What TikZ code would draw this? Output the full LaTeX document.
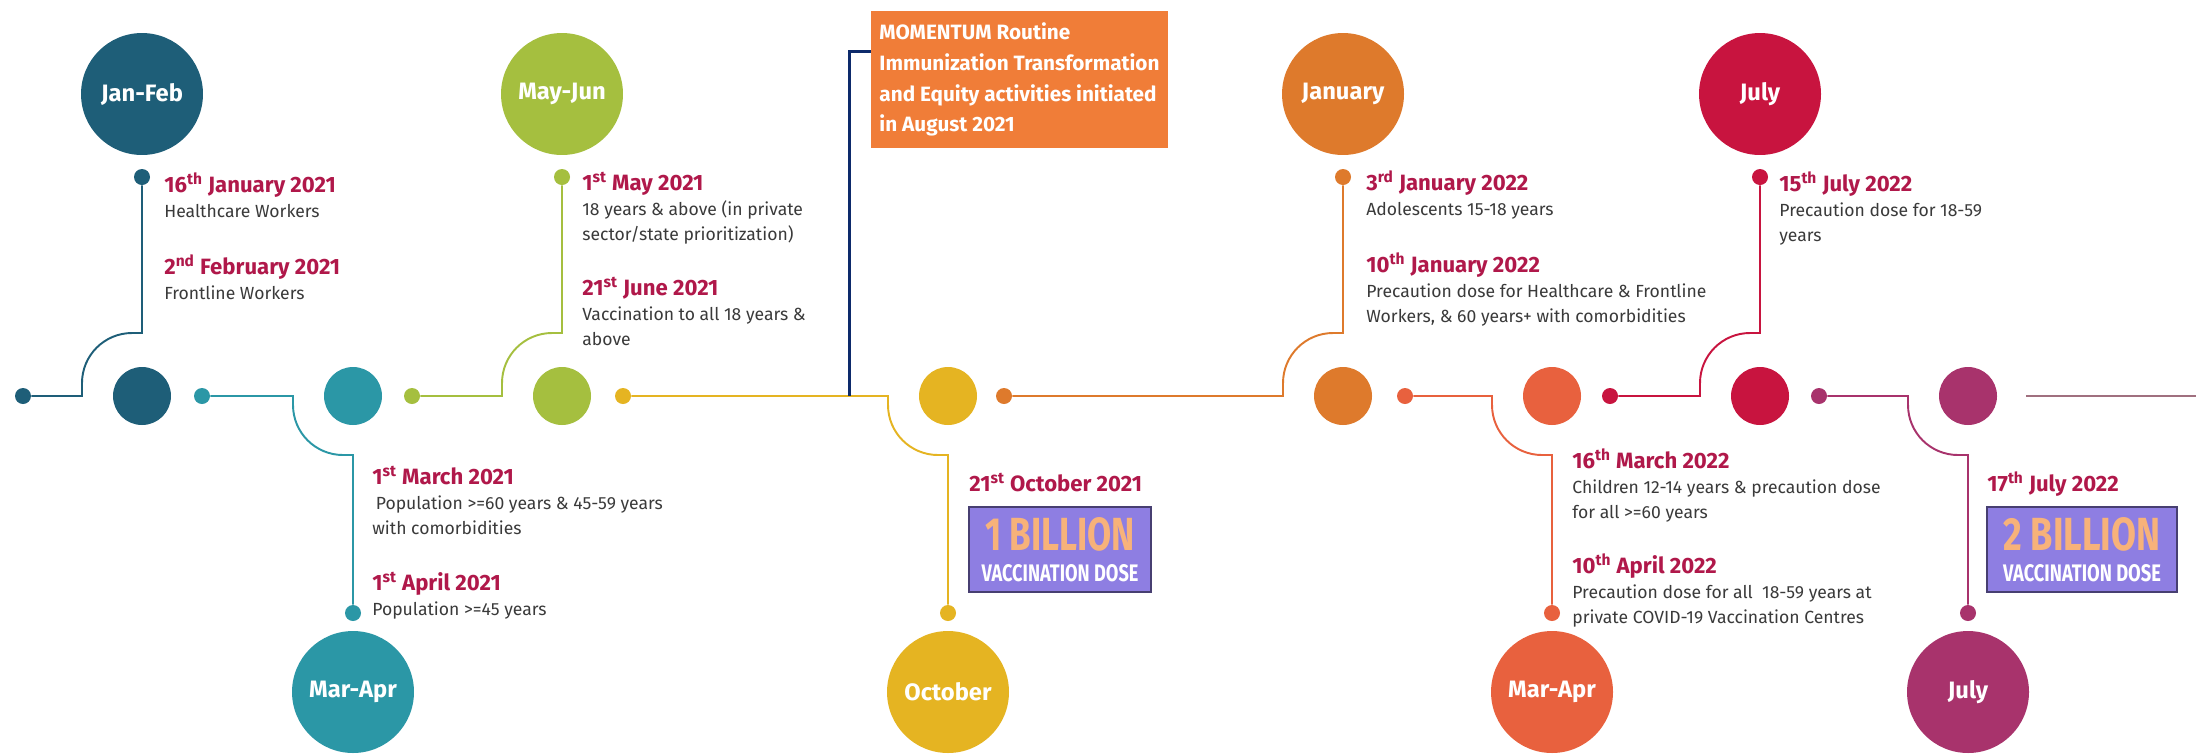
\documentclass[tikz,border=0pt]{standalone}
\usepackage{fontspec}
\setmainfont{Fira Sans}
\usepackage{xcolor}
\usetikzlibrary{positioning}

\definecolor{tealdark}{HTML}{1E5E78}
\definecolor{tealmid}{HTML}{2B97A6}
\definecolor{leaf}{HTML}{A5BF3F}
\definecolor{gold}{HTML}{E5B422}
\definecolor{amber}{HTML}{DE7A2C}
\definecolor{coral}{HTML}{E8613E}
\definecolor{crimson}{HTML}{C8143F}
\definecolor{plum}{HTML}{A8336C}
\definecolor{mauve}{HTML}{A0707F}
\definecolor{navy}{HTML}{0D2A6B}
\definecolor{datered}{HTML}{B0184A}
\definecolor{txtgray}{HTML}{3A3A3A}
\definecolor{boxorange}{HTML}{F07D38}
\definecolor{boxviolet}{HTML}{8E7EE2}
\definecolor{peach}{HTML}{F7B27A}
\newcommand{\datefont}{\fontsize{12.6}{14.2}\selectfont\bfseries\color{datered}}

\begin{document}
\begin{tikzpicture}[x=0.02cm,y=-0.02cm,
bigdot/.style={circle,minimum size=2.44cm,inner sep=0pt,text=white,font=\fontsize{13.5}{15}\selectfont\bfseries},
middot/.style={circle,minimum size=1.16cm,inner sep=0pt},
pin/.style={circle,minimum size=0.32cm,inner sep=0pt},
event/.style={anchor=base west,align=left,inner sep=0pt,text=txtgray,font=\fontsize{10}{14.2}\selectfont},
line/.style={line width=1.1pt},
billion/.style={draw=boxviolet!50!black,line width=0.8pt,fill=boxviolet,minimum height=1.7cm,inner sep=0pt,align=center}
]
\path[use as bounding box,fill=white] (0,0) rectangle (2196,755);

% month circles
\node[bigdot,fill=tealdark] (janfeb) at (142,94) {Jan-Feb};
\node[bigdot,fill=leaf] (mayjun) at (562,94) {May-Jun};
\node[bigdot,fill=amber] (jan22) at (1343,94) {January};
\node[bigdot,fill=crimson] (jul22a) at (1760,94) {July};
\node[bigdot,fill=tealmid] (marapr) at (353,692) {Mar-Apr};
\node[bigdot,fill=gold] (oct21) at (948,692) {October};
\node[bigdot,fill=coral] (marapr22) at (1552,692) {Mar-Apr};
\node[bigdot,fill=plum] (jul22b) at (1968,692) {July};

% circles on the line
\node[middot,fill=tealdark] (m1) at (142,396) {};
\node[middot,fill=tealmid] (m2) at (353,396) {};
\node[middot,fill=leaf] (m3) at (562,396) {};
\node[middot,fill=gold] (m4) at (948,396) {};
\node[middot,fill=amber] (m5) at (1343,396) {};
\node[middot,fill=coral] (m6) at (1552,396) {};
\node[middot,fill=crimson] (m7) at (1760,396) {};
\node[middot,fill=plum] (m8) at (1968,396) {};

% start dots
\node[pin,fill=tealdark] (d1) at (23,396) {};
\node[pin,fill=tealmid] (d2) at (202,396) {};
\node[pin,fill=leaf] (d3) at (412,396) {};
\node[pin,fill=gold] (d4) at (623,396) {};
\node[pin,fill=amber] (d5) at (1004,396) {};
\node[pin,fill=coral] (d6) at (1405,396) {};
\node[pin,fill=crimson] (d7) at (1610,396) {};
\node[pin,fill=plum] (d8) at (1819,396) {};

% end dots
\node[pin,fill=tealdark] (t1) at (142,177) {};
\node[pin,fill=tealmid] (t2) at (353,613) {};
\node[pin,fill=leaf] (t3) at (562,177) {};
\node[pin,fill=gold] (t4) at (948,613) {};
\node[pin,fill=amber] (t5) at (1343,177) {};
\node[pin,fill=coral] (t6) at (1552,613) {};
\node[pin,fill=crimson] (t7) at (1760,177) {};
\node[pin,fill=plum] (t8) at (1968,613) {};
\coordinate (tailstart) at (2026,396);
\coordinate (tail) at (2196,396);

% timeline pieces
\draw[line,tealdark] (d1) -- (82,396) -- (82,383) .. controls (82,355.4) and (104.4,333) .. (132,333) -- (142,333) -- (t1);
\draw[line,tealmid] (d2) -- (293,396) -- (293,405) .. controls (293,432.6) and (315.4,455) .. (343,455) -- (353,455) -- (t2);
\draw[line,leaf] (d3) -- (502,396) -- (502,383) .. controls (502,355.4) and (524.4,333) .. (552,333) -- (562,333) -- (t3);
\draw[line,gold] (d4) -- (888,396) -- (888,405) .. controls (888,432.6) and (910.4,455) .. (938,455) -- (948,455) -- (t4);
\draw[line,amber] (d5) -- (1283,396) -- (1283,383) .. controls (1283,355.4) and (1305.4,333) .. (1333,333) -- (1343,333) -- (t5);
\draw[line,coral] (d6) -- (1492,396) -- (1492,405) .. controls (1492,432.6) and (1514.4,455) .. (1542,455) -- (1552,455) -- (t6);
\draw[line,crimson] (d7) -- (1700,396) -- (1700,383) .. controls (1700,355.4) and (1722.4,333) .. (1750,333) -- (1760,333) -- (t7);
\draw[line,plum] (d8) -- (1908,396) -- (1908,405) .. controls (1908,432.6) and (1930.4,455) .. (1958,455) -- (1968,455) -- (t8);
\draw[line,mauve] (tailstart) -- (tail);

% momentum note
\node[fill=boxorange,text=white,minimum width=5.94cm,minimum height=2.74cm,align=left,inner sep=0pt,
  font=\fontsize{11.8}{17.6}\selectfont\bfseries] (momentum) at (1019.5,79.5)
  {MOMENTUM Routine\\Immunization Transformation\\and Equity activities initiated\\in August 2021};
\coordinate (navyfoot) at (849,396);
\draw[navy,line width=1.7pt] (navyfoot) |- ([yshift=-0.82cm]momentum.north west);

% events above the line
\node[event] (ev1) at (164,217) {{\datefont 16\textsuperscript{th} January 2021}\\Healthcare Workers};
\node[event] (ev2) at (164,299) {{\datefont 2\textsuperscript{nd} February 2021}\\Frontline Workers};
\node[event] (ev3) at (582,240) {{\datefont 1\textsuperscript{st} May 2021}\\18 years \& above (in private\\sector/state prioritization)};
\node[event] (ev4) at (582,345) {{\datefont 21\textsuperscript{st} June 2021}\\Vaccination to all 18 years \&\\above};
\node[event] (ev5) at (1366,215) {{\datefont 3\textsuperscript{rd} January 2022}\\Adolescents 15-18 years};
\node[event] (ev6) at (1366,322) {{\datefont 10\textsuperscript{th} January 2022}\\Precaution dose for Healthcare \& Frontline\\Workers, \& 60 years+ with comorbidities};
\node[event] (ev7) at (1779,241) {{\datefont 15\textsuperscript{th} July 2022}\\Precaution dose for 18-59\\years};

% events below the line
\node[event] (ev8) at (372,534) {{\datefont 1\textsuperscript{st} March 2021}\\\hspace{2pt}Population >=60 years \& 45-59 years\\with comorbidities};
\node[event] (ev9) at (372,615) {{\datefont 1\textsuperscript{st} April 2021}\\Population >=45 years};
\node[event] (ev10) at (969,491) {{\datefont 21\textsuperscript{st} October 2021}};
\node[event] (ev11) at (1572,518) {{\datefont 16\textsuperscript{th} March 2022}\\Children 12-14 years \& precaution dose\\for all >=60 years};
\node[event] (ev12) at (1572,623) {{\datefont 10\textsuperscript{th} April 2022}\\Precaution dose for all\ \ 18-59 years at\\private COVID-19 Vaccination Centres};
\node[event] (ev13) at (1987,491) {{\datefont 17\textsuperscript{th} July 2022}};

% dose milestones
\node[billion,minimum width=3.64cm] (bil1) at (1060,549.5)
  {\textcolor{peach}{\resizebox{3cm}{0.66cm}{\bfseries 1 BILLION}}\\[0.2cm]
   \textcolor{white}{\resizebox{3.14cm}{0.34cm}{\bfseries VACCINATION DOSE}}};
\node[billion,minimum width=3.8cm] (bil2) at (2082,549.5)
  {\textcolor{peach}{\resizebox{3.14cm}{0.66cm}{\bfseries 2 BILLION}}\\[0.2cm]
   \textcolor{white}{\resizebox{3.16cm}{0.34cm}{\bfseries VACCINATION DOSE}}};
\end{tikzpicture}
\end{document}
